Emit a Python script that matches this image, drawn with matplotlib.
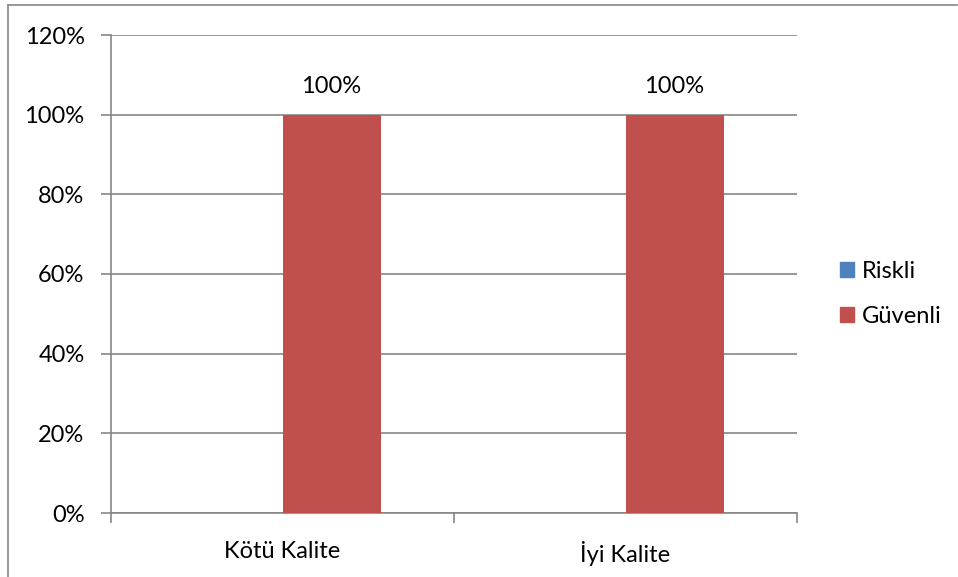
import numpy as np
import matplotlib.pyplot as plt
from matplotlib.lines import Line2D
from matplotlib.patches import Patch

categories = ["Kötü Kalite", "İyi Kalite"]
riskli = [0.0, 0.0]
guvenli = [1.0, 1.0]
yticks = [0, 0.2, 0.4, 0.6, 0.8, 1.0, 1.2]

plt.rcParams['font.family'] = ['Lato', 'DejaVu Sans']
gray = "#868686"
c_risk = "#4F81BD"
c_guv = "#C0504D"
fs = 17

fig = plt.figure(figsize=(9.58, 5.77), dpi=100)
ax = fig.add_axes([111/958, 64/577, 686/958, 478/577])

x = np.arange(len(categories)) + 0.5
w = 0.286
ax.bar(x - w/2, riskli, w, color=c_risk, zorder=3)
bars = ax.bar(x + w/2, guvenli, w, color=c_guv, zorder=3)
for b, v in zip(bars, guvenli):
    ax.text(b.get_x() + b.get_width()/2, v + 0.045, "%d%%" % round(v*100),
            ha="center", va="bottom", fontsize=fs)

ax.set_xlim(0, 2)
ax.set_ylim(0, 1.2)
ax.set_yticks(yticks)
ax.set_yticklabels(["%d%%" % round(t*100) for t in yticks], fontsize=fs)
ax.set_xticks([0, 1, 2])
ax.set_xticklabels([])
ax.set_xticks(x, minor=True)
ax.set_xticklabels(categories, minor=True, fontsize=fs)
ax.tick_params(axis="x", which="minor", length=0, pad=20)
ax.tick_params(axis="x", which="major", length=7, color=gray, width=1.2)
ax.tick_params(axis="y", length=7, color=gray, width=1.2, pad=12)
ax.yaxis.grid(True, color=gray, linewidth=1.2, zorder=0)
for s in ["top", "right"]:
    ax.spines[s].set_visible(False)
for s in ["left", "bottom"]:
    ax.spines[s].set_color(gray)
    ax.spines[s].set_linewidth(1.2)

handles = [Patch(color=c_risk), Patch(color=c_guv)]
fig.legend(handles, ["Riskli", "Güvenli"], loc="center left",
           bbox_to_anchor=(819/958, 1 - 294/577), frameon=False, fontsize=fs,
           handlelength=0.6, handleheight=0.6, handletextpad=0.3, labelspacing=1.0)

# outer frame
fig.add_artist(Line2D([8/958, 957/958], [1 - 5/577, 1 - 5/577], color=gray, lw=1.2))
fig.add_artist(Line2D([8/958, 8/958], [0, 1 - 5/577], color=gray, lw=1.2))

plt.savefig("out.png", dpi=100)
